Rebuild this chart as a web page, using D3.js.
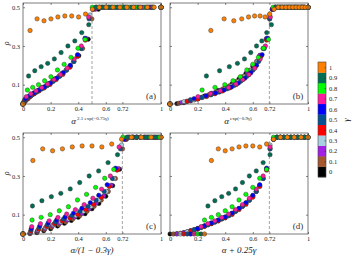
<!DOCTYPE html>
<html>
<head>
<meta charset="utf-8">
<script src="https://cdn.jsdelivr.net/npm/d3@7"></script>
<style>
  body { margin: 0; background: #fff; }
  .axis text { font-family: "Liberation Serif", serif; font-size: 6.5px; fill: #222; }
  .axis line { stroke: #333; stroke-width: 0.6; }
  .axis path { display: none; }
</style>
</head>
<body>
<svg id="chart" width="353" height="258"></svg>
<script>
// raw alpha grid and gamma values
var alphas = [0, 0.05, 0.1, 0.15, 0.2, 0.25, 0.3, 0.35, 0.4, 0.45, 0.5, 0.55, 0.6, 0.65, 0.7, 0.75, 0.8, 0.85, 0.9, 0.95, 1];
var gammas = [0, 0.1, 0.2, 0.3, 0.4, 0.5, 0.6, 0.7, 0.8, 0.9, 1];
var colors = ["#000000", "#a5562c", "#a41fe6", "#a8d0e2", "#ff0000", "#045295", "#0000ff", "#ff1aa0", "#00ff00", "#006e55", "#ff8000"];

// rho(alpha) for each gamma
var rhoG00 = [0, .002, .007, .017, .027, .041, .055, .070, .086, .105, .130, .158, .195, .250, .335, .49, .5, .5, .5, .5, .5];
var rhoG01 = [0, .004, .012, .022, .034, .048, .062, .078, .095, .117, .143, .175, .220, .287, .440, .5, .5, .5, .5, .5, .5];
var rhoG02 = [0, .007, .017, .028, .042, .056, .071, .087, .106, .131, .160, .197, .252, .338, .49, .5, .5, .5, .5, .5, .5];
var rhoG03 = [0, .012, .022, .034, .048, .062, .078, .095, .117, .143, .175, .220, .287, .460, .5, .5, .5, .5, .5, .5, .5];
var rhoG04 = [0, .015, .025, .039, .053, .067, .083, .101, .126, .153, .190, .245, .330, .49, .5, .5, .5, .5, .5, .5, .5];
var rhoG05 = [0, .022, .034, .048, .062, .078, .095, .117, .143, .175, .220, .287, .440, .5, .5, .5, .5, .5, .5, .5, .5];
var rhoG06 = [0, .028, .042, .057, .072, .088, .108, .133, .162, .200, .255, .340, .49, .5, .5, .5, .5, .5, .5, .5, .5];
var rhoG07 = [0, .038, .053, .068, .085, .103, .126, .152, .185, .232, .300, .450, .5, .5, .5, .5, .5, .5, .5, .5, .5];
var rhoG08 = [0, .072, .086, .100, .120, .141, .176, .205, .241, .288, .334, .5, .5, .5, .5, .5, .5, .5, .5, .5, .5];
var rhoG09 = [0, .145, .172, .193, .210, .233, .266, .300, .326, .369, .410, .5, .5, .5, .5, .5, .5, .5, .5, .5, .5];
var rhoG10 = [0, .380, .440, .430, .440, .450, .455, .455, .450, .465, .490, .5, .5, .5, .5, .5, .5, .5, .5, .5, .5];
var rhoAll = [rhoG00, rhoG01, rhoG02, rhoG03, rhoG04, rhoG05, rhoG06, rhoG07, rhoG08, rhoG09, rhoG10];

var xTicks = [0, 0.2, 0.4, 0.6, 0.72, 1];
var yTicks = [0.1, 0.3, 0.5];

var svg = d3.select("svg#chart");
var pw = 138, ph = 101;

var panels = [
  {tag: "(a)", left: 23, top: 3, crit: 0.5, ylab: true,
   f: function(a, g) { return Math.pow(a, 2.1 * Math.exp(-0.75 * g)); }},
  {tag: "(b)", left: 170, top: 3, crit: 0.72, ylab: false,
   f: function(a, g) { return Math.pow(a, Math.exp(-0.9 * g)); }},
  {tag: "(c)", left: 23, top: 133, crit: 0.72, ylab: true,
   f: function(a, g) { return a / (1 - 0.3 * g); }},
  {tag: "(d)", left: 170, top: 133, crit: 0.72, ylab: false,
   f: function(a, g) { return a + 0.25 * g; }}
];

var x = d3.scaleLinear().domain([0, 1]).range([0, pw]);
var y = d3.scaleLinear().domain([0, 0.522]).range([ph, 0]);

var fmt = function(d) { return d === 0 ? "0" : d === 1 ? "1" : String(d); };

panels.forEach(function(p) {
  var g = svg.append("g").attr("transform", "translate(" + p.left + "," + p.top + ")");

  g.append("g").attr("class", "axis")
      .attr("transform", "translate(0," + ph + ")")
      .call(d3.axisBottom(x).tickValues(xTicks).tickSize(-2).tickPadding(2).tickFormat(fmt));
  g.append("g").attr("class", "axis")
      .call(d3.axisTop(x).tickValues(xTicks).tickSize(-2).tickFormat(""));
  g.append("g").attr("class", "axis")
      .call(d3.axisLeft(y).tickValues(yTicks).tickSize(-2).tickPadding(3).tickFormat(p.ylab ? d3.format(".1f") : ""));
  g.append("g").attr("class", "axis")
      .attr("transform", "translate(" + pw + ",0)")
      .call(d3.axisRight(y).tickValues(yTicks).tickSize(-2).tickFormat(""));

  g.append("line")
      .attr("x1", x(p.crit)).attr("x2", x(p.crit))
      .attr("y1", y(0)).attr("y2", y(0.48))
      .attr("stroke", "#999").attr("stroke-width", 0.9)
      .attr("stroke-dasharray", "3,2");

  gammas.forEach(function(gam, k) {
    var pts = alphas.map(function(a, i) { return {x: p.f(a, gam), y: rhoAll[k][i]}; })
      .filter(function(d) { return d.x <= 1.0001; });
    g.append("g").selectAll("circle")
      .data(pts)
      .enter().append("circle")
        .attr("cx", function(d) { return x(d.x); })
        .attr("cy", function(d) { return y(d.y); })
        .attr("r", 2.2)
        .attr("fill", colors[k])
        .attr("stroke", "#333")
        .attr("stroke-width", 0.45);
  });

  g.append("rect")
      .attr("width", pw).attr("height", ph)
      .attr("fill", "none").attr("stroke", "#444").attr("stroke-width", 0.7);

  g.append("text")
      .attr("x", pw - 10).attr("y", ph - 5)
      .attr("text-anchor", "middle")
      .attr("font-family", "Liberation Serif, serif").attr("font-size", 9)
      .attr("fill", "#333")
      .text(p.tag);

  if (p.ylab) {
    g.append("text")
      .attr("transform", "translate(-14," + (ph * 0.4) + ") rotate(-90)")
      .attr("text-anchor", "middle")
      .attr("font-family", "Liberation Serif, serif").attr("font-style", "italic").attr("font-size", 8)
      .attr("fill", "#222")
      .text("ρ");
  }
});

// x axis titles
function title(cx, cy, base, sup) {
  var t = svg.append("text")
      .attr("x", cx).attr("y", cy)
      .attr("text-anchor", "middle")
      .attr("font-family", "Liberation Serif, serif")
      .attr("fill", "#222");
  t.append("tspan").attr("font-size", 9).attr("font-style", "italic").text(base);
  if (sup) t.append("tspan").attr("font-size", 5).attr("dy", -4).attr("dx", 1).text(sup);
}
title(90, 124, "α", "2.1 exp(−0.75γ)");
title(238, 124, "α", "exp(−0.9γ)");
title(92, 253, "α/(1 − 0.3γ)", null);
title(239, 253, "α + 0.25γ", null);

// colorbar
var cb = svg.append("g").attr("transform", "translate(318,62)");
var cy = d3.scaleBand().domain(gammas.slice().reverse()).range([0, 115]);
cb.selectAll("rect")
  .data(gammas)
  .enter().append("rect")
    .attr("x", 0).attr("y", function(d) { return cy(d); })
    .attr("width", 8).attr("height", cy.bandwidth() + 0.3)
    .attr("fill", function(d, i) { return colors[i]; });
cb.append("rect").attr("width", 8).attr("height", 115)
  .attr("fill", "none").attr("stroke", "#444").attr("stroke-width", 0.6);
cb.append("g").attr("class", "axis")
  .attr("transform", "translate(8," + (cy.bandwidth() / 2) + ")")
  .call(d3.axisRight(d3.scalePoint().domain(cy.domain()).range([0, 115 - cy.bandwidth()]))
        .tickSize(-1.5).tickPadding(3).tickFormat(function(d) { return String(d); }))
  .selectAll("text").attr("font-family", "Liberation Sans, sans-serif").attr("font-size", 6);
svg.append("text")
  .attr("transform", "translate(349,120) rotate(-90)")
  .attr("text-anchor", "middle")
  .attr("font-family", "Liberation Serif, serif").attr("font-style", "italic").attr("font-size", 9)
  .attr("fill", "#222")
  .text("γ");
</script>
</body>
</html>
